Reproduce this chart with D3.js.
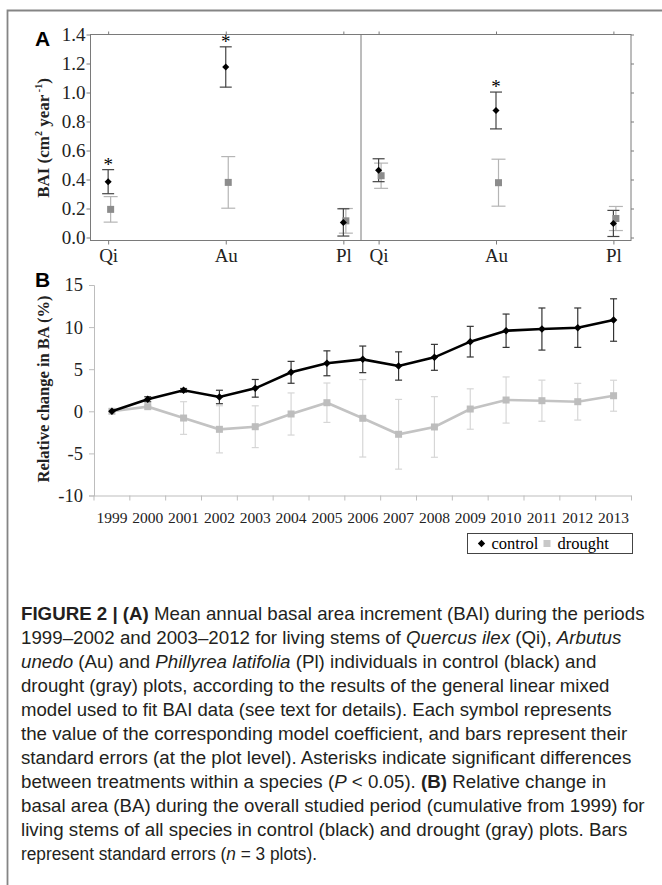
<!DOCTYPE html>
<html>
<head>
<meta charset="utf-8">
<script src="https://cdn.jsdelivr.net/npm/d3@7"></script>
<style>
  body { margin: 0; background: #fff; }
  svg { display: block; }
</style>
</head>
<body>
<div id="chart"></div>
<script>
// Panel A : BAI par espèce et période (coefficients du modèle ± SE)
const species = ['Qi', 'Au', 'Pl'];
const baiControlEarly = [0.385, 1.176, 0.104];
const baiControlEarlySE = [0.083, 0.139, 0.094];
const baiDroughtEarly = [0.194, 0.380, 0.115];
const baiDroughtEarlySE = [0.088, 0.178, 0.085];
const baiControlLate = [0.464, 0.876, 0.097];
const baiControlLateSE = [0.079, 0.127, 0.090];
const baiDroughtLate = [0.426, 0.378, 0.131];
const baiDroughtLateSE = [0.087, 0.162, 0.083];
const sigEarly = [true, true, false];
const sigLate = [false, true, false];
const baiTicks = ['0.0', '0.2', '0.4', '0.6', '0.8', '1.0', '1.2', '1.4'];

// Panel B : changement relatif de BA (%) cumulé depuis 1999
const years = ['1999', '2000', '2001', '2002', '2003', '2004', '2005', '2006',
  '2007', '2008', '2009', '2010', '2011', '2012', '2013'];
const baControl = [0, 1.43, 2.49, 1.70, 2.73, 4.63, 5.70, 6.17, 5.38, 6.41, 8.27, 9.57, 9.77, 9.93, 10.84];
const baControlSE = [0, 0.30, 0.22, 0.80, 1.05, 1.30, 1.48, 1.58, 1.68, 1.54, 1.82, 1.98, 2.50, 2.34, 2.52];
const baDrought = [0, 0.55, -0.80, -2.14, -1.83, -0.32, 1.02, -0.83, -2.73, -1.86, 0.27, 1.34, 1.26, 1.14, 1.85];
const baDroughtSE = [0, 0.10, 1.94, 2.80, 2.48, 2.50, 2.34, 4.60, 4.14, 3.60, 2.40, 2.74, 2.44, 2.18, 1.84];
const baTicks = ['-10', '-5', '0', '5', '10', '15'];

const W = 662, H = 885;
const serif = '"Liberation Serif", "Times New Roman", serif';
const sans = '"Liberation Sans", Arial, sans-serif';

const svg = d3.select('#chart').append('svg')
  .attr('width', W)
  .attr('height', H);

svg.append('rect').attr('width', W).attr('height', H).attr('fill', '#fff');

// cadre extérieur
svg.append('path')
  .attr('d', `M7.5,${H + 5} V10.5 H${W + 5}`)
  .attr('fill', 'none')
  .attr('stroke', '#858585')
  .attr('stroke-width', 1.8);

// ---------- Panel A ----------
const boxA = { left: 90.5, mid: 361, right: 631, top: 34.5, bottom: 240.5 };
const yA = d3.scaleLinear().domain([0, 1.4]).range([237.5, 34.5]);

const gA = svg.append('g');
const axisGray = '#7a7a7a';

// boîte
gA.append('rect')
  .attr('x', boxA.left).attr('y', boxA.top)
  .attr('width', boxA.right - boxA.left).attr('height', boxA.bottom - boxA.top)
  .attr('fill', 'none').attr('stroke', axisGray).attr('stroke-width', 1);
gA.append('line')
  .attr('x1', boxA.mid).attr('x2', boxA.mid)
  .attr('y1', boxA.top).attr('y2', boxA.bottom)
  .attr('stroke', axisGray).attr('stroke-width', 1);

// axe Y gauche
const yAxisA = gA.append('g')
  .attr('transform', `translate(${boxA.left},0)`)
  .call(d3.axisLeft(yA).tickValues(baiTicks.map(Number)).tickSize(4)
    .tickFormat((d, i) => baiTicks[i]));
yAxisA.select('.domain').remove();
yAxisA.selectAll('line').attr('stroke', axisGray);
yAxisA.selectAll('text')
  .attr('x', -5)
  .style('font-family', serif)
  .style('font-size', '19px')
  .attr('fill', '#222');

// graduations à droite (sans étiquettes)
const yAxisA2 = gA.append('g')
  .attr('transform', `translate(${boxA.right},0)`)
  .call(d3.axisRight(yA).tickValues(baiTicks.map(Number)).tickSize(3).tickFormat(''));
yAxisA2.select('.domain').remove();
yAxisA2.selectAll('line').attr('stroke', axisGray);

// titre axe Y
svg.append('text')
  .attr('transform', `translate(49,138) rotate(-90)`)
  .attr('text-anchor', 'middle')
  .style('font-family', serif)
  .style('font-size', '17px')
  .style('font-weight', 'bold')
  .attr('fill', '#222')
  .call(t => {
    t.append('tspan').text('BAI (cm');
    t.append('tspan').attr('dy', -7).style('font-size', '10px').text('2');
    t.append('tspan').attr('dy', 7).text(' year');
    t.append('tspan').attr('dy', -7).style('font-size', '10px').text(' -1');
    t.append('tspan').attr('dy', 7).text(')');
  });

svg.append('text')
  .attr('x', 35).attr('y', 46)
  .style('font-family', sans)
  .style('font-size', '21px')
  .style('font-weight', 'bold')
  .text('A');

function drawPeriod(x0, x1, ctl, ctlSE, dro, droSE, sig) {
  const x = d3.scalePoint().domain(species).range([x0, x1]).padding(0.15);
  const g = gA.append('g');

  // graduations haut et bas
  const axB = g.append('g')
    .attr('transform', `translate(0,${boxA.bottom})`)
    .call(d3.axisBottom(x).tickSize(4).tickPadding(4));
  axB.select('.domain').remove();
  axB.selectAll('line').attr('stroke', axisGray);
  axB.selectAll('text')
    .style('font-family', serif)
    .style('font-size', '19px')
    .attr('fill', '#222');
  const axT = g.append('g')
    .attr('transform', `translate(0,${boxA.top})`)
    .call(d3.axisTop(x).tickSize(3).tickFormat(''));
  axT.select('.domain').remove();
  axT.selectAll('line').attr('stroke', axisGray);

  const rows = species.map((s, i) => ({ s, i }));
  const dx = 2.5;

  // barres d'erreur drought
  rows.forEach(({ s, i }) => {
    const cx = x(s) + dx;
    const lo = yA(dro[i] - droSE[i]), hi = yA(dro[i] + droSE[i]);
    const eb = g.append('g').attr('stroke', '#b5b5b5').attr('stroke-width', 1.2);
    eb.append('line').attr('x1', cx).attr('x2', cx).attr('y1', lo).attr('y2', hi);
    eb.append('line').attr('x1', cx - 7).attr('x2', cx + 7).attr('y1', lo).attr('y2', lo);
    eb.append('line').attr('x1', cx - 7).attr('x2', cx + 7).attr('y1', hi).attr('y2', hi);
  });
  // barres d'erreur control
  rows.forEach(({ s, i }) => {
    const cx = x(s);
    const lo = yA(ctl[i] - ctlSE[i]), hi = yA(ctl[i] + ctlSE[i]);
    const eb = g.append('g').attr('stroke', '#444').attr('stroke-width', 1.2);
    eb.append('line').attr('x1', cx).attr('x2', cx).attr('y1', lo).attr('y2', hi);
    eb.append('line').attr('x1', cx - 6).attr('x2', cx + 6).attr('y1', lo).attr('y2', lo);
    eb.append('line').attr('x1', cx - 6).attr('x2', cx + 6).attr('y1', hi).attr('y2', hi);
  });

  // symboles
  g.selectAll('.sq')
    .data(rows)
    .join('rect')
    .attr('class', 'sq')
    .attr('x', d => x(d.s) + dx - 3.5)
    .attr('y', d => yA(dro[d.i]) - 3.5)
    .attr('width', 7).attr('height', 7)
    .attr('fill', '#8c8c8c');
  g.selectAll('.dm')
    .data(rows)
    .join('path')
    .attr('class', 'dm')
    .attr('d', d3.symbol(d3.symbolDiamond2, 32))
    .attr('transform', d => `translate(${x(d.s)},${yA(ctl[d.i])})`)
    .attr('fill', '#000');

  // astérisques
  g.selectAll('.star')
    .data(rows.filter(d => sig[d.i]))
    .join('text')
    .attr('class', 'star')
    .attr('x', d => x(d.s))
    .attr('y', d => yA(ctl[d.i] + ctlSE[d.i]) + 1)
    .attr('text-anchor', 'middle')
    .style('font-family', serif)
    .style('font-size', '19px')
    .text('*');
}

drawPeriod(boxA.left, boxA.mid, baiControlEarly, baiControlEarlySE, baiDroughtEarly, baiDroughtEarlySE, sigEarly);
drawPeriod(boxA.mid, boxA.right, baiControlLate, baiControlLateSE, baiDroughtLate, baiDroughtLateSE, sigLate);

// ---------- Panel B ----------
const xB = d3.scaleBand().domain(years).range([94, 631.5]).padding(0);
const yB = d3.scaleLinear().domain([-10, 15]).range([495.5, 285]);
const gB = svg.append('g');
const lightAxis = '#bdbdbd';

const yAxisB = gB.append('g')
  .attr('transform', 'translate(94,0)')
  .call(d3.axisLeft(yB).tickValues(baTicks.map(Number)).tickSize(5).tickPadding(6)
    .tickFormat((d, i) => baTicks[i]));
yAxisB.select('.domain').attr('stroke', lightAxis);
yAxisB.selectAll('line').attr('stroke', lightAxis);
yAxisB.selectAll('text')
  .style('font-family', serif)
  .style('font-size', '18.5px')
  .attr('fill', '#222');

const xAxisB = gB.append('g')
  .attr('transform', `translate(0,${yB(-10)})`)
  .call(d3.axisBottom(xB).tickSize(0).tickPadding(16));
xAxisB.select('.domain').attr('stroke', lightAxis).attr('d', `M94,0.5H631.5`);
xAxisB.selectAll('text')
  .style('font-family', serif)
  .style('font-size', '15.5px')
  .attr('fill', '#222');
// graduations entre catégories
gB.append('g')
  .selectAll('line')
  .data(years.concat(['end']))
  .join('line')
  .attr('x1', (d, i) => 94 + i * xB.step())
  .attr('x2', (d, i) => 94 + i * xB.step())
  .attr('y1', yB(-10))
  .attr('y2', yB(-10) + 5)
  .attr('stroke', lightAxis);

svg.append('text')
  .attr('transform', 'translate(49,389) rotate(-90)')
  .attr('text-anchor', 'middle')
  .style('font-family', serif)
  .style('font-size', '16.5px')
  .style('font-weight', 'bold')
  .attr('fill', '#222')
  .text('Relative change in BA (%)');

svg.append('text')
  .attr('x', 35).attr('y', 287)
  .style('font-family', sans)
  .style('font-size', '21px')
  .style('font-weight', 'bold')
  .text('B');

const cxB = y => xB(y) + xB.bandwidth() / 2;
const rowsB = years.map((y, i) => ({ y, i }));

function errorBars(vals, se, color, cap) {
  const g = gB.append('g').attr('stroke', color).attr('stroke-width', 1.2);
  rowsB.filter(d => se[d.i] > 0).forEach(d => {
    const cx = cxB(d.y);
    const lo = yB(vals[d.i] - se[d.i]), hi = yB(vals[d.i] + se[d.i]);
    g.append('line').attr('x1', cx).attr('x2', cx).attr('y1', lo).attr('y2', hi);
    g.append('line').attr('x1', cx - cap).attr('x2', cx + cap).attr('y1', lo).attr('y2', lo);
    g.append('line').attr('x1', cx - cap).attr('x2', cx + cap).attr('y1', hi).attr('y2', hi);
  });
}

// drought
errorBars(baDrought, baDroughtSE, '#d6d6d6', 3.5);
gB.append('path')
  .datum(rowsB)
  .attr('fill', 'none')
  .attr('stroke', '#c3c3c3')
  .attr('stroke-width', 2.6)
  .attr('d', d3.line().x(d => cxB(d.y)).y(d => yB(baDrought[d.i])));
gB.selectAll('.sqB')
  .data(rowsB)
  .join('rect')
  .attr('class', 'sqB')
  .attr('x', d => cxB(d.y) - 3.5)
  .attr('y', d => yB(baDrought[d.i]) - 3.5)
  .attr('width', 7).attr('height', 7)
  .attr('fill', '#bdbdbd');

// control
errorBars(baControl, baControlSE, '#333', 3.5);
gB.append('path')
  .datum(rowsB)
  .attr('fill', 'none')
  .attr('stroke', '#000')
  .attr('stroke-width', 2.6)
  .attr('d', d3.line().x(d => cxB(d.y)).y(d => yB(baControl[d.i])));
gB.selectAll('.dmB')
  .data(rowsB)
  .join('path')
  .attr('class', 'dmB')
  .attr('d', d3.symbol(d3.symbolDiamond2, 36))
  .attr('transform', d => `translate(${cxB(d.y)},${yB(baControl[d.i])})`)
  .attr('fill', '#000');

// légende
const legend = svg.append('g').attr('transform', 'translate(467.5,533.5)');
legend.append('rect')
  .attr('width', 165).attr('height', 20)
  .attr('fill', '#fff').attr('stroke', '#444').attr('stroke-width', 1);
legend.append('path')
  .attr('d', d3.symbol(d3.symbolDiamond2, 34))
  .attr('transform', 'translate(14,10)');
legend.append('text')
  .attr('x', 24).attr('y', 15)
  .style('font-family', serif).style('font-size', '16.5px')
  .text('control');
legend.append('rect')
  .attr('x', 76).attr('y', 6.5).attr('width', 7).attr('height', 7)
  .attr('fill', '#c8c8c8');
legend.append('text')
  .attr('x', 90).attr('y', 15)
  .style('font-family', serif).style('font-size', '16.5px')
  .text('drought');

// ---------- Légende de la figure ----------
const caption = [
  [['FIGURE 2 | (A)', 'b'], [' Mean annual basal area increment (BAI) during the periods']],
  [['1999–2002 and 2003–2012 for living stems of '], ['Quercus ilex', 'i'], [' (Qi), '], ['Arbutus', 'i']],
  [['unedo', 'i'], [' (Au) and '], ['Phillyrea latifolia', 'i'], [' (Pl) individuals in control (black) and']],
  [['drought (gray) plots, according to the results of the general linear mixed']],
  [['model used to fit BAI data (see text for details). Each symbol represents']],
  [['the value of the corresponding model coefficient, and bars represent their']],
  [['standard errors (at the plot level). Asterisks indicate significant differences']],
  [['between treatments within a species ('], ['P', 'i'], [' < 0.05). '], ['(B)', 'b'], [' Relative change in']],
  [['basal area (BA) during the overall studied period (cumulative from 1999) for']],
  [['living stems of all species in control (black) and drought (gray) plots. Bars']],
  [['represent standard errors ('], ['n', 'i'], [' = 3 plots).']]
];
// largeur de chaque ligne dans la figure d'origine (px)
const captionWidths = [624, 615, 591, 589, 591, 616, 625, 591, 624, 619, 289];

const cap = svg.append('g')
  .style('font-family', sans)
  .style('font-size', '18px')
  .attr('fill', '#231f20');

caption.forEach((segs, i) => {
  const t = cap.append('text')
    .attr('x', 0)
    .attr('y', 0);
  segs.forEach(([txt, st]) => {
    const ts = t.append('tspan').text(txt);
    if (st === 'b') ts.style('font-weight', 'bold');
    if (st === 'i') ts.style('font-style', 'italic');
  });
  // facteur horizontal par ligne, borné pour garder une police homogène
  const raw = captionWidths[i] / t.node().getComputedTextLength();
  const sx = Math.max(0.96, Math.min(1.04, raw));
  t.attr('transform', `translate(21,${620 + i * 24}) scale(${sx},1)`);
});
</script>
</body>
</html>
